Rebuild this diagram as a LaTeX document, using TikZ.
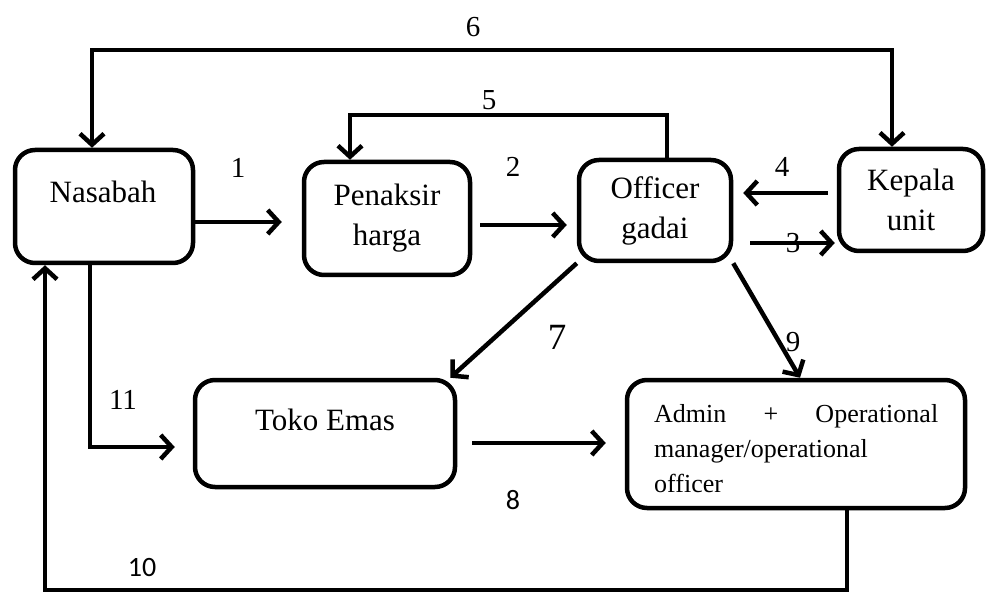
\documentclass[tikz,border=0pt]{standalone}
\usepackage{fontspec}
\setmainfont{Liberation Serif}
\newfontfamily\carl{Carlito}
\usetikzlibrary{arrows.meta}
\begin{document}
\begin{tikzpicture}[x=1pt,y=-1pt,
  box/.style={draw, line width=4.5pt, rounded corners=20pt, inner sep=0pt, align=center, font=\fontsize{31}{40}\selectfont},
  lbl/.style={inner sep=0pt, font=\fontsize{29}{34}\selectfont},
  slbl/.style={inner sep=0pt, font=\carl\fontsize{28}{34}\selectfont},
  arr/.style={line width=4.5pt, -{Straight Barb[length=11pt,width=24pt]}},
  darr/.style={line width=4.5pt, {Straight Barb[length=11pt,width=24pt]}-{Straight Barb[length=11pt,width=24pt]}}]
\useasboundingbox (0,0) rectangle (987,593);
% boxes
\node[box, minimum width=178pt, minimum height=113pt] (nas) at (104,206.5) {};
\node[inner sep=0pt, anchor=base, font=\fontsize{31}{40}\selectfont] (nast) at (103,203) {Nasabah};
\node[box, minimum width=166pt, minimum height=113pt] (pen) at (387,218.5) {Penaksir\\harga};
\node[box, minimum width=152pt, minimum height=101pt] (off) at (655,210.5) {Officer\\gadai};
\node[box, minimum width=144pt, minimum height=102pt] (kep) at (911,200) {Kepala\\unit};
\node[box, minimum width=260pt, minimum height=107pt] (tok) at (325,433.5) {};
\node[inner sep=0pt, anchor=base, font=\fontsize{31}{40}\selectfont] (tokt) at (325,430) {Toko Emas};
\node[box, minimum width=338pt, minimum height=128pt] (adm) at (796,444) {};
\node[inner sep=0pt, anchor=north west, text width=284pt, align=left, font=\fontsize{26}{35}\selectfont] (admt) at (654,404)
  {Admin\hfill+\hfill Operational\\manager/operational\\officer};
% connectors
\draw[arr, shorten >=20pt] (nas.east |- 0,222) -- (pen.west |- 0,222);
\draw[arr, shorten <=8pt, shorten >=10pt] (pen.east |- 0,225) -- (off.west |- 0,225);
\draw[arr, shorten <=17pt, shorten >=2pt] (off.east |- 0,243) -- (kep.west |- 0,243);
\draw[arr, shorten <=9pt, shorten >=10pt] (kep.west |- 0,193) -- (off.east |- 0,193);
\draw[arr] (off.north -| 667,0) -- (667,115) -- (350,115) -- (pen.north -| 350,0);
\draw[darr] (nas.north -| 92,0) -- (92,50) -- (892,50) -- (kep.north -| 892,0);
\draw[arr] (off.south west) -- ([xshift=-7pt]tok.north east);
\draw[arr] (off.south east) -- (adm.north -| 800,0);
\draw[arr, shorten <=15pt, shorten >=19pt] (tok.east |- 0,443) -- (adm.west |- 0,443);
\draw[arr, shorten >=18pt] (nas.south -| 90,0) -- (90,447) -- (tok.west |- 0,447);
\draw[arr] (adm.south -| 847,0) -- (847,590) -- (45,590) -- (nas.south -| 45,0);
% labels
\node[lbl] (l1) at (238,168) {1};
\node[lbl] (l2) at (513,167) {2};
\node[lbl] (l3) at (793,243) {3};
\node[lbl] (l4) at (782,167) {4};
\node[lbl] (l5) at (489,100) {5};
\node[lbl] (l6) at (473,27) {6};
\node[lbl, font=\fontsize{37}{40}\selectfont] (l7) at (557,337) {7};
\node[slbl] (l8) at (513,500) {8};
\node[lbl] (l9) at (793,342) {9};
\node[slbl] (l10) at (142,568) {10};
\node[lbl] (l11) at (123,400) {11};
\end{tikzpicture}
\end{document}
